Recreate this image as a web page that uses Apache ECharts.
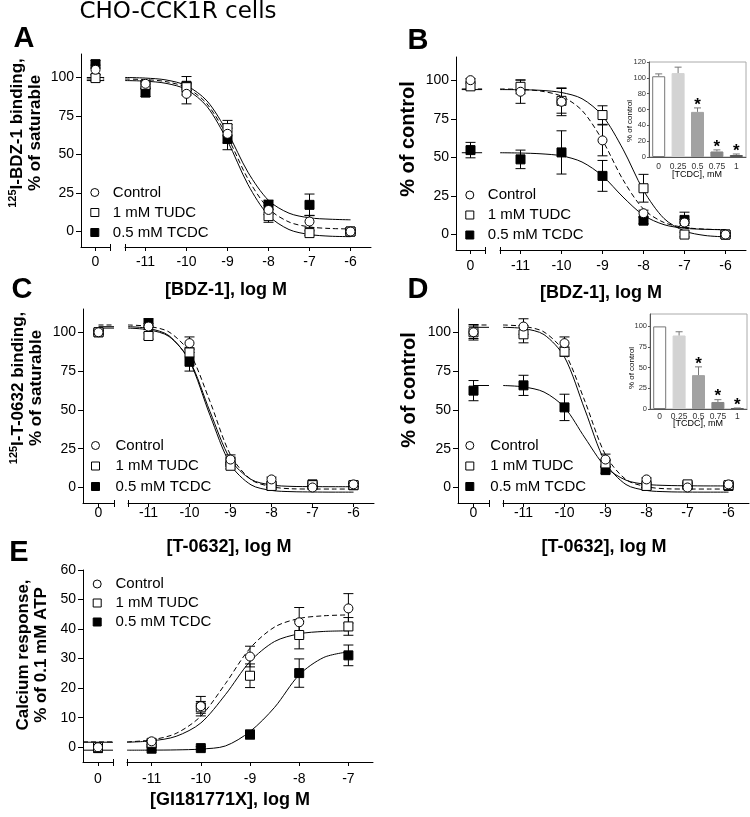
<!DOCTYPE html>
<html>
<head>
<meta charset="utf-8">
<script src="https://cdn.jsdelivr.net/npm/echarts@6.0.0/dist/echarts.min.js"></script>
<style>html,body{margin:0;padding:0;background:#fff;}#chart{width:750px;height:817px;}</style>
</head>
<body>
<div id="chart"></div>
<script>
// ---------------- data ----------------
const logDoses  = [-11, -10, -9, -8, -7, -6];
const logDosesE = [-11, -10, -9, -8, -7];
const fitX  = [-11.5, -11, -10.5, -10, -9.5, -9, -8.5, -8, -7.5, -7, -6.5, -6];
const fitXE = [-11.5, -11, -10.5, -10, -9.5, -9, -8.5, -8, -7.5, -7];
const yTicksBinding = [0, 25, 50, 75, 100];
const yTicksCalcium = [0, 10, 20, 30, 40, 50, 60];
const zeroTick = [0];
const seriesNames = ['Control', '1 mM TUDC', '0.5 mM TCDC'];

// first value of each point array = no-ligand point drawn at "0"
// Panel A
const A_ctrl = [104.8, 95.7, 89.2, 63.3, 14.0, 6.5, 0.0];
const A_ctrl_err = [3, 2, 6.5, 6, 3, 4, 1];
const A_tudc = [99.4, 95.0, 93.5, 67.0, 10.0, -1.0, 0.0];
const A_tudc_err = [2, 2, 3, 5, 4, 1.5, 1];
const A_tcdc = [108.4, 90.0, 94.4, 60.0, 17.3, 17.3, 0.0];
const A_tcdc_err = [2.5, 2.5, 6, 7, 3, 7, 1];
const A_ctrl_fit = [98.8, 98.4, 97.1, 93.2, 82.7, 61.3, 34.1, 14.9, 6.2, 3.0, 2.0, 1.7];
const A_tudc_fit = [97.8, 97.4, 96.0, 92.0, 81.0, 58.7, 30.4, 10.4, 1.3, -1.9, -3.0, -3.3];
const A_tcdc_fit = [99.8, 99.4, 98.2, 94.5, 84.6, 64.2, 38.4, 20.2, 11.9, 8.9, 8.0, 7.6];
// Panel B
const B_ctrl = [100.0, 92.5, 86.0, 61.0, 13.8, 7.8, 0.0];
const B_ctrl_err = [1, 7.5, 9, 10, 2, 2, 1];
const B_tudc = [96.0, 95.7, 86.6, 77.4, 30.0, 0.0, 0.0];
const B_tudc_err = [2, 4.5, 8, 6, 9, 1.5, 1];
const B_tcdc = [54.7, 48.7, 53.2, 38.0, 9.0, 9.5, 0.0];
const B_tcdc_err = [5, 6, 14, 10, 2, 5, 1];
const B_ctrl_fit = [94.3, 94.0, 92.9, 89.6, 80.4, 61.0, 35.5, 16.5, 7.8, 4.6, 3.5, 3.2];
const B_tudc_fit = [93.9, 93.8, 93.4, 92.0, 88.0, 77.0, 55.3, 28.6, 10.4, 2.3, -0.6, -1.5];
const B_tcdc_fit = [53.0, 52.8, 52.3, 51.0, 47.0, 38.0, 24.3, 12.5, 6.4, 4.1, 3.4, 3.1];
// Panel C
const C_ctrl = [100.0, 103.7, 93.0, 18.0, 5.2, 0.0, 2.0];
const C_ctrl_err = [1.5, 2, 4, 3, 1.5, 1, 1.5];
const C_tudc = [100.0, 97.6, 87.0, 14.0, 1.0, 1.5, 1.5];
const C_tudc_err = [1, 2, 3, 2, 1, 1, 1];
const C_tcdc = [100.0, 105.8, 81.0, 16.6, 1.0, 2.0, 1.5];
const C_tcdc_err = [1, 3, 6, 3, 1, 1, 1];
const C_ctrl_fit = [104.7, 103.8, 100.2, 87.0, 55.4, 21.0, 5.1, 0.5, -0.85, -1.0, -1.0, -1.0];
const C_tudc_fit = [102.7, 101.6, 97.3, 82.0, 48.9, 18.0, 5.2, 1.6, 0.7, 0.55, 0.5, 0.5];
const C_tcdc_fit = [103.6, 102.5, 97.8, 81.4, 46.5, 14.8, 1.7, -1.9, -2.7, -2.9, -3.0, -3.0];
// Panel D
const D_ctrl = [100.0, 103.7, 93.0, 18.0, 5.2, 0.0, 2.0];
const D_ctrl_err = [5, 5, 4, 3.5, 1, 1, 1];
const D_tudc = [100.0, 98.7, 87.5, 15.5, 1.0, 2.0, 1.5];
const D_tudc_err = [4, 5.5, 3, 2, 1, 1, 1];
const D_tcdc = [62.4, 65.8, 51.6, 11.2, 1.0, 1.5, 1.0];
const D_tcdc_err = [6.5, 6.5, 8.5, 2, 1, 1, 1];
const D_ctrl_fit = [104.7, 103.8, 100.2, 87.0, 55.4, 21.0, 5.1, 0.5, -0.85, -1.0, -1.0, -1.0];
const D_tudc_fit = [103.2, 102.4, 98.5, 84.0, 49.9, 16.0, 1.9, -1.9, -2.75, -2.95, -3.0, -3.0];
const D_tcdc_fit = [65.7, 64.8, 61.5, 51.6, 31.9, 13.3, 4.7, 2.0, 1.3, 1.1, 1.0, 1.0];
// Panel E
const E_ctrl = [0.0, 2.0, 13.9, 30.7, 42.3, 47.0];
const E_ctrl_err = [0.8, 0.5, 3.3, 3.5, 5, 5];
const E_tudc = [0.0, 1.5, 13.5, 24.2, 38.0, 40.9];
const E_tudc_err = [0.5, 0.5, 2, 4, 4.7, 3];
const E_tcdc = [-0.3, -0.5, -0.3, 4.3, 25.1, 31.1];
const E_tcdc_err = [0.5, 0.5, 0.5, 1.5, 4.8, 3.5];
const E_ctrl_fit = [1.8, 2.5, 4.7, 10.5, 21.5, 33.5, 40.7, 43.6, 44.5, 44.8];
const E_tudc_fit = [1.7, 2.15, 3.7, 8.2, 17.8, 29.0, 35.8, 38.4, 39.2, 39.4];
const E_tcdc_fit = [-1.0, -0.98, -0.9, -0.62, 0.43, 5.3, 13.5, 24.5, 30.4, 32.3];
// Insets
const tcdcDose = ['0', '0.25', '0.5', '0.75', '1'];
const B_inset = [102, 106, 57, 7, 2.5];
const B_inset_err = [3, 7.5, 5, 2, 1.3];
const D_inset = [100, 89, 41, 8.5, 0.8];
const D_inset_err = [0, 4.5, 10, 2.8, 0.4];
const insetSig = ['', '', '*', '*', '*'];
const insetTicksB = [0, 20, 40, 60, 80, 100, 120];
const insetTicksD = [0, 25, 50, 75, 100];

// ---------------- builders ----------------
const FONT = "'Liberation Sans', Arial, Helvetica, sans-serif";
const grids = [], xAxes = [], yAxes = [], series = [], legends = [], graphics = [];

function xAxisBase(g, min, max, tickVals, labelVals, margin) {
  return {type: 'value', gridIndex: g, position: 'bottom', min: min, max: max,
    axisLine: {show: true, onZero: false, lineStyle: {color: '#000', width: 1}},
    axisTick: {show: true, length: 4, customValues: tickVals, lineStyle: {color: '#000', width: 1}},
    axisLabel: {show: true, customValues: labelVals, margin: margin, fontSize: 14, color: '#000', fontFamily: FONT},
    splitLine: {show: false}};
}
function innerTickAxis(g, min, max, at) {
  return {type: 'value', gridIndex: g, position: 'bottom', min: min, max: max,
    axisLine: {show: false, onZero: false},
    axisTick: {show: true, inside: true, length: 3, customValues: [at], lineStyle: {color: '#000', width: 1}},
    axisLabel: {show: false}, splitLine: {show: false}};
}
function errSeries(xi, yi, pts, capHalf, color, topOnly, z) {
  return {type: 'custom', xAxisIndex: xi, yAxisIndex: yi, silent: true, z: z,
    data: pts,
    renderItem: function (params, api) {
      const x = api.value(0), y = api.value(1), e = api.value(2);
      if (!(e > 0)) return null;
      const pT = api.coord([x, y + e]);
      const pB = api.coord([x, topOnly ? y : y - e]);
      const st = {stroke: color, lineWidth: 1};
      const ch = [
        {type: 'line', shape: {x1: pT[0], y1: pT[1], x2: pB[0], y2: pB[1]}, style: st},
        {type: 'line', shape: {x1: pT[0] - capHalf, y1: pT[1], x2: pT[0] + capHalf, y2: pT[1]}, style: st}
      ];
      if (!topOnly) ch.push({type: 'line', shape: {x1: pB[0] - capHalf, y1: pB[1], x2: pB[0] + capHalf, y2: pB[1]}, style: st});
      return {type: 'group', children: ch};
    }};
}
const setStyles = [
  {symbol: 'circle', fill: '#ffffff', dashed: true},
  {symbol: 'rect', fill: '#ffffff', dashed: false},
  {symbol: 'rect', fill: '#000000', dashed: false}
];

function addPanel(p) {
  const gL = grids.length, gM = gL + 1;
  grids.push({left: p.left, top: p.top, width: p.segW, height: p.h});
  grids.push({left: p.mainLeft, top: p.top, width: p.mainW, height: p.h});
  const xL = xAxes.length, xM = xL + 1;
  xAxes.push(xAxisBase(gL, -0.5, 0.5, [0, 0.5], zeroTick, p.lm));
  xAxes.push(xAxisBase(gM, p.xMin, p.xMax, [p.xMin].concat(p.doses), p.doses, p.lm));
  xAxes.push(innerTickAxis(gL, -0.5, 0.5, 0.5));
  xAxes.push(innerTickAxis(gM, p.xMin, p.xMax, p.xMin));
  const yL = yAxes.length, yM = yL + 1;
  yAxes.push({type: 'value', gridIndex: gL, position: 'left', min: p.yMin, max: p.yMax,
    axisLine: {show: true, onZero: false, lineStyle: {color: '#000', width: 1}},
    axisTick: {show: true, length: 5, customValues: p.yTicks, lineStyle: {color: '#000', width: 1}},
    axisLabel: {customValues: p.yTicks, margin: 7, fontSize: 14, color: '#000', fontFamily: FONT},
    splitLine: {show: false}});
  yAxes.push({type: 'value', gridIndex: gM, min: p.yMin, max: p.yMax, show: false, splitLine: {show: false}});

  // fitted curves
  p.sets.forEach(function (s, k) {
    const ls = {color: '#000', width: 1, type: setStyles[k].dashed ? [5, 3] : 'solid'};
    series.push({type: 'line', xAxisIndex: xM, yAxisIndex: yM, data: p.fitX.map(function (x, i) { return [x, s.fit[i]]; }),
      symbol: 'none', showSymbol: false, smooth: 0.3, lineStyle: ls, silent: true, z: 2});
    series.push({type: 'line', xAxisIndex: xL, yAxisIndex: yL, data: [[p.zeroSpan[0], s.fit[0]], [p.zeroSpan[1], s.fit[0]]],
      symbol: 'none', showSymbol: false, lineStyle: ls, silent: true, z: 2});
  });
  // points + error bars (TCDC first, control on top)
  [2, 1, 0].forEach(function (k) {
    const s = p.sets[k], st = setStyles[k];
    const ptsL = [[0, s.vals[0], s.err[0]]];
    const ptsM = p.doses.map(function (x, i) { return [x, s.vals[i + 1], s.err[i + 1]]; });
    series.push(errSeries(xL, yL, ptsL, 5, '#000', false, 4));
    series.push(errSeries(xM, yM, ptsM, 5, '#000', false, 4));
    const sc = {type: 'scatter', name: seriesNames[k], symbol: st.symbol, symbolSize: 9,
      itemStyle: {color: st.fill, borderColor: '#000', borderWidth: 1, opacity: 1}, z: 5, silent: true};
    series.push(Object.assign({}, sc, {xAxisIndex: xL, yAxisIndex: yL, data: ptsL.map(function (d) { return [d[0], d[1]]; })}));
    series.push(Object.assign({}, sc, {xAxisIndex: xM, yAxisIndex: yM, data: ptsM.map(function (d) { return [d[0], d[1]]; })}));
  });
  legends.push({show: true, orient: 'vertical', left: p.leg[0], top: p.leg[1], padding: 0,
    itemWidth: 8, itemHeight: 8, itemGap: p.legGap, selectedMode: false,
    textStyle: {fontSize: 15, color: '#000', fontFamily: FONT, lineHeight: 15, padding: [0, 0, 0, p.legPad]},
    data: [
      {name: seriesNames[0], icon: 'circle', itemStyle: {color: '#fff', borderColor: '#000', borderWidth: 1}},
      {name: seriesNames[1], icon: 'rect', itemStyle: {color: '#fff', borderColor: '#000', borderWidth: 1}},
      {name: seriesNames[2], icon: 'rect', itemStyle: {color: '#000', borderColor: '#000', borderWidth: 1}}
    ]});
}

const barFill = ['#ffffff', '#d3d3d3', '#a2a2a2', '#858585', '#575757'];
const barBorder = ['#777777', '#d3d3d3', '#a2a2a2', '#858585', '#575757'];
function addInset(p) {
  const g = grids.length;
  grids.push({left: p.left, top: p.top, width: p.w, height: p.h, show: true, borderColor: '#aaaaaa', borderWidth: 1, backgroundColor: 'rgba(255,255,255,0)'});
  const xi = xAxes.length;
  xAxes.push({type: 'category', gridIndex: g, data: p.cats, position: 'bottom',
    axisLine: {show: true, onZero: false, lineStyle: {color: '#555', width: 1}},
    axisTick: {show: false},
    axisLabel: {fontSize: 8.5, color: '#333', margin: p.lm, fontFamily: FONT, interval: 0},
    splitLine: {show: false}});
  const yi = yAxes.length;
  yAxes.push({type: 'value', gridIndex: g, min: 0, max: p.yMax, position: 'left',
    axisLine: {show: true, onZero: false, lineStyle: {color: '#555', width: 1}},
    axisTick: {show: true, length: 2, customValues: p.ticks, lineStyle: {color: '#555'}},
    axisLabel: {customValues: p.ticks, fontSize: 7.5, color: '#333', margin: 3, fontFamily: FONT},
    splitLine: {show: false}});
  series.push({type: 'bar', xAxisIndex: xi, yAxisIndex: yi, barWidth: 13, silent: true, z: 3,
    data: p.vals.map(function (v, i) { return {value: v, itemStyle: {color: barFill[i], borderColor: barBorder[i], borderWidth: 1}}; })});
  series.push(errSeries(xi, yi, p.vals.map(function (v, i) { return [i, v, p.err[i]]; }), 3.5, '#777', true, 4));
  series.push({type: 'custom', xAxisIndex: xi, yAxisIndex: yi, silent: true, z: 5,
    data: p.vals.map(function (v, i) { return [i, v + p.err[i]]; }),
    renderItem: function (params, api) {
      const t = insetSig[params.dataIndex];
      if (!t) return null;
      const pt = api.coord([api.value(0), api.value(1)]);
      return {type: 'text', x: pt[0], y: pt[1] - 3,
        style: {text: t, font: 'bold 17px ' + FONT, fill: '#000', textAlign: 'center', textVerticalAlign: 'middle', align: 'center', verticalAlign: 'middle'}};
    }});
}

function panelSets(a, ae, af, b, be, bf, c, ce, cf) {
  return [{vals: a, err: ae, fit: af}, {vals: b, err: be, fit: bf}, {vals: c, err: ce, fit: cf}];
}

addPanel({left: 81, top: 54, h: 193, segW: 29, mainLeft: 125, mainW: 246, xMin: -11.5, xMax: -5.5, doses: logDoses, fitX: fitX,
  yMin: -10, yMax: 115, yTicks: yTicksBinding, lm: 8, zeroSpan: [-0.3, 0.3], leg: [90.3, 185], legGap: 5, legPad: 9,
  sets: panelSets(A_ctrl, A_ctrl_err, A_ctrl_fit, A_tudc, A_tudc_err, A_tudc_fit, A_tcdc, A_tcdc_err, A_tcdc_fit)});
addPanel({left: 456, top: 57, h: 193, segW: 29, mainLeft: 500, mainW: 246, xMin: -11.5, xMax: -5.5, doses: logDoses, fitX: fitX,
  yMin: -10, yMax: 115, yTicks: yTicksBinding, lm: 9, zeroSpan: [-0.3, 0.4], leg: [465.3, 187.5], legGap: 5, legPad: 9,
  sets: panelSets(B_ctrl, B_ctrl_err, B_ctrl_fit, B_tudc, B_tudc_err, B_tudc_fit, B_tcdc, B_tcdc_err, B_tcdc_fit)});
addPanel({left: 83, top: 309, h: 194, segW: 31, mainLeft: 128, mainW: 246, xMin: -11.5, xMax: -5.5, doses: logDoses, fitX: fitX,
  yMin: -10, yMax: 115, yTicks: yTicksBinding, lm: 3, zeroSpan: [0.0, 0.5], leg: [91, 438], legGap: 5.5, legPad: 11,
  sets: panelSets(C_ctrl, C_ctrl_err, C_ctrl_fit, C_tudc, C_tudc_err, C_tudc_fit, C_tcdc, C_tcdc_err, C_tcdc_fit)});
addPanel({left: 458, top: 309, h: 194, segW: 31, mainLeft: 503, mainW: 246, xMin: -11.5, xMax: -5.5, doses: logDoses, fitX: fitX,
  yMin: -10, yMax: 115, yTicks: yTicksBinding, lm: 3, zeroSpan: [0.0, 0.5], leg: [465.3, 438], legGap: 5.5, legPad: 11.5,
  sets: panelSets(D_ctrl, D_ctrl_err, D_ctrl_fit, D_tudc, D_tudc_err, D_tudc_fit, D_tcdc, D_tcdc_err, D_tcdc_fit)});
addPanel({left: 83, top: 570, h: 192, segW: 30, mainLeft: 127, mainW: 246, xMin: -11.5, xMax: -6.5, doses: logDosesE, fitX: fitXE,
  yMin: -5, yMax: 60, yTicks: yTicksCalcium, lm: 10, zeroSpan: [-0.5, 0.5], leg: [92.7, 576.5], legGap: 4, legPad: 9.3,
  sets: panelSets(E_ctrl, E_ctrl_err, E_ctrl_fit, E_tudc, E_tudc_err, E_tudc_fit, E_tcdc, E_tcdc_err, E_tcdc_fit)});

addInset({left: 649, top: 62, w: 97, h: 95, yMax: 120, ticks: insetTicksB, cats: tcdcDose, vals: B_inset, err: B_inset_err, lm: 5});
addInset({left: 650, top: 314, w: 97, h: 95, yMax: 115, ticks: insetTicksD, cats: tcdcDose, vals: D_inset, err: D_inset_err, lm: 3});

// ---------------- texts ----------------
function txt(t, x, y, font, rot, rich) {
  const st = {text: t, font: font, fill: '#000', textAlign: 'center', textVerticalAlign: 'middle', align: 'center', verticalAlign: 'middle'};
  if (rich) st.rich = rich;
  return {type: 'text', x: x, y: y, rotation: rot || 0, silent: true, style: st};
}
const B17 = 'bold 17px ' + FONT, B18 = 'bold 18px ' + FONT, B20 = 'bold 20px ' + FONT, L28 = 'bold 29px ' + FONT;
const supRich = {
  s: {fontSize: 11, fontWeight: 'bold', fontFamily: FONT, verticalAlign: 'top', lineHeight: 11},
  t: {fontSize: 17, fontWeight: 'bold', fontFamily: FONT, lineHeight: 20}
};
const R = Math.PI / 2;
graphics.push(txt('CHO-CCK1R cells', 178, 12, "23px 'DejaVu Sans', 'Liberation Sans', sans-serif"));
graphics.push(txt('A', 24, 39, L28));
graphics.push(txt('B', 418, 41, L28));
graphics.push(txt('C', 22, 290, L28));
graphics.push(txt('D', 418, 290, L28));
graphics.push(txt('E', 19, 553, L28));
graphics.push(txt('[BDZ-1], log M', 226, 290.5, B18));
graphics.push(txt('[BDZ-1], log M', 601, 293, B18));
graphics.push(txt('[T-0632], log M', 229, 547, B18));
graphics.push(txt('[T-0632], log M', 604, 547, B18));
graphics.push(txt('[GI181771X], log M', 230, 800, B18));
graphics.push(txt('{s|125}{t|I-BDZ-1 binding,}', 17, 133, B17, R, supRich));
graphics.push(txt('% of saturable', 35.5, 133, B17, R));
graphics.push(txt('% of control', 408, 139, B20, R));
graphics.push(txt('{s|125}{t|I-T-0632 binding,}', 18, 388, B17, R, supRich));
graphics.push(txt('% of saturable', 36.5, 388, B17, R));
graphics.push(txt('% of control', 409, 390, B20, R));
graphics.push(txt('Calcium response,', 23, 655, B17, R));
graphics.push(txt('% of 0.1 mM ATP', 41, 655, B17, R));
// inset titles
graphics.push(txt('% of control', 630, 121, '8px ' + FONT, R));
graphics.push(txt('[TCDC], mM', 697, 175, '9px ' + FONT));
graphics.push(txt('% of control', 632, 368, '8px ' + FONT, R));
graphics.push(txt('[TCDC], mM', 698, 424, '9px ' + FONT));

const chart = echarts.init(document.getElementById('chart'), null, {renderer: 'canvas'});
chart.setOption({
  animation: false,
  backgroundColor: '#ffffff',
  textStyle: {fontFamily: FONT},
  grid: grids, xAxis: xAxes, yAxis: yAxes, series: series, legend: legends,
  graphic: {elements: graphics}
});
</script>
</body>
</html>
